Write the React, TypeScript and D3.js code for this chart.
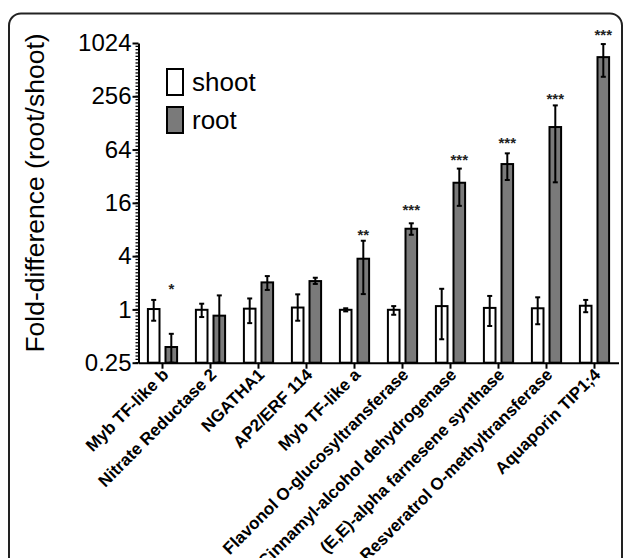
import React, { useEffect, useRef } from 'react';
import * as d3 from 'd3';

const genes = [
  'Myb TF-like b',
  'Nitrate Reductase 2',
  'NGATHA1',
  'AP2/ERF 114',
  'Myb TF-like a',
  'Flavonol O-glucosyltransferase',
  'Cinnamyl-alcohol dehydrogenase',
  '(E,E)-alpha farnesene synthase',
  'Resveratrol O-methyltransferase',
  'Aquaporin TIP1;4',
];
const series = ['shoot', 'root'];

const shootMean = [1.01, 0.99, 1.02, 1.05, 0.99, 0.99, 1.09, 1.04, 1.03, 1.1];
const shootLow = [0.745, 0.82, 0.7, 0.745, 0.95, 0.87, 0.46, 0.65, 0.68, 0.93];
const shootHigh = [1.28, 1.16, 1.33, 1.48, 1.03, 1.09, 1.71, 1.42, 1.37, 1.28];

const rootMean = [0.376, 0.85, 2.02, 2.09, 3.74, 8.16, 27, 43.9, 115, 709];
const rootLow = [0.25, 0.25, 1.66, 1.94, 1.49, 6.97, 14.8, 29, 27.3, 425];
const rootHigh = [0.53, 1.44, 2.38, 2.28, 5.97, 9.4, 39, 58, 202, 996];

// significance marks and the value where each sits
const signif = ['*', '', '', '', '**', '***', '***', '***', '***', '***'];
const signifAt = [1.84, 0, 0, 0, 7.55, 14.2, 52.7, 81.3, 259.6, 1351];

const yTicks = [0.25, 1, 4, 16, 64, 256, 1024];

const Chart: React.FC = () => {
  const ref = useRef<SVGSVGElement | null>(null);

  useEffect(() => {
    const svg = d3.select(ref.current);
    svg.selectAll('*').remove();

    const font = '"Liberation Sans", Arial, Helvetica, sans-serif';

    // panel frame
    svg
      .append('rect')
      .attr('x', 9)
      .attr('y', 13.5)
      .attr('width', 613)
      .attr('height', 620)
      .attr('rx', 12)
      .attr('fill', 'none')
      .attr('stroke', '#222')
      .attr('stroke-width', 2);

    const left = 138.5;
    const right = 618.5;
    const top = 43;
    const bottom = 362.7;

    const x0 = d3.scaleBand<string>().domain(genes).range([left, right]).padding(0);
    const x1 = d3.scaleBand<string>().domain(series).range([-17.6, 17.6]).padding(0);
    const y = d3.scaleLog().base(2).domain([0.25, 1024]).range([bottom, top]);

    const barW = 11.6;

    const rows = genes.map((g, i) => ({
      gene: g,
      vals: [
        { s: 'shoot', m: shootMean[i], lo: shootLow[i], hi: shootHigh[i] },
        { s: 'root', m: rootMean[i], lo: rootLow[i], hi: rootHigh[i] },
      ],
    }));

    const groups = svg
      .selectAll('.grp')
      .data(rows)
      .enter()
      .append('g')
      .attr('class', 'grp')
      .attr('transform', (d) => `translate(${x0(d.gene)! + x0.bandwidth() / 2},0)`);

    const bars = groups
      .selectAll('.bar')
      .data((d) => d.vals)
      .enter()
      .append('g');

    bars
      .append('rect')
      .attr('x', (d) => x1(d.s)! + x1.bandwidth() / 2 - barW / 2)
      .attr('y', (d) => y(d.m))
      .attr('width', barW)
      .attr('height', (d) => bottom - y(d.m))
      .attr('fill', (d) => (d.s === 'root' ? '#7a7a7a' : '#fff'))
      .attr('stroke', '#000')
      .attr('stroke-width', 2);

    // error bars
    bars
      .append('line')
      .attr('x1', (d) => x1(d.s)! + x1.bandwidth() / 2)
      .attr('x2', (d) => x1(d.s)! + x1.bandwidth() / 2)
      .attr('y1', (d) => y(d.lo))
      .attr('y2', (d) => y(d.hi))
      .attr('stroke', '#000')
      .attr('stroke-width', 2);

    ['lo', 'hi'].forEach((k) => {
      bars
        .append('line')
        .attr('x1', (d) => x1(d.s)! + x1.bandwidth() / 2 - 2.5)
        .attr('x2', (d) => x1(d.s)! + x1.bandwidth() / 2 + 2.5)
        .attr('y1', (d: any) => y(d[k]))
        .attr('y2', (d: any) => y(d[k]))
        .attr('stroke', '#000')
        .attr('stroke-width', 2);
    });

    // significance stars
    svg
      .selectAll('.sig')
      .data(genes)
      .enter()
      .append('text')
      .attr('x', (d) => x0(d)! + x0.bandwidth() / 2 + x1('root')! + x1.bandwidth() / 2)
      .attr('y', (d, i) => y(signifAt[i] || 1) + 8)
      .attr('text-anchor', 'middle')
      .attr('font-family', font)
      .attr('font-size', 15)
      .attr('font-weight', 'bold')
      .attr('fill', '#222')
      .text((d, i) => signif[i]);

    // y axis
    const yAxis = svg
      .append('g')
      .attr('transform', `translate(${left},0)`)
      .call(
        d3
          .axisLeft(y)
          .tickValues(yTicks)
          .tickFormat((d) => String(d))
          .tickSize(6)
          .tickSizeOuter(0)
      );
    yAxis.select('.domain').attr('stroke', '#000').attr('stroke-width', 2);
    yAxis.selectAll('line').attr('stroke', '#000').attr('stroke-width', 2);
    yAxis
      .selectAll('text')
      .attr('font-family', font)
      .attr('font-size', 24)
      .attr('fill', '#000')
      .attr('x', -7);

    // minor ticks on y
    const minor: number[] = [];
    for (let e = -2; e < 10; e += 0.125) minor.push(Math.pow(2, e));
    yAxis
      .selectAll('.minor')
      .data(minor)
      .enter()
      .append('line')
      .attr('x1', -3)
      .attr('x2', 0)
      .attr('y1', (d) => y(d))
      .attr('y2', (d) => y(d))
      .attr('stroke', '#000')
      .attr('stroke-width', 1.3);

    // x axis
    const xAxis = svg
      .append('g')
      .attr('transform', `translate(0,${bottom})`)
      .call(d3.axisBottom(x0).tickSize(6).tickSizeOuter(0));
    xAxis.select('.domain').attr('stroke', '#000').attr('stroke-width', 2);
    xAxis.selectAll('line').attr('stroke', '#000').attr('stroke-width', 2);
    xAxis
      .selectAll('text')
      .attr('font-family', font)
      .attr('font-size', 17)
      .attr('font-weight', 'bold')
      .attr('fill', '#000')
      .attr('text-anchor', 'end')
      .attr('dy', 0)
      .attr('y', 0)
      .attr('transform', 'translate(7,13) rotate(-45)');

    // y title
    svg
      .append('text')
      .attr('transform', `translate(44,193) rotate(-90)`)
      .attr('text-anchor', 'middle')
      .attr('font-family', font)
      .attr('font-size', 26.5)
      .attr('fill', '#000')
      .text('Fold-difference (root/shoot)');

    // legend
    const legend = svg
      .selectAll('.leg')
      .data(series)
      .enter()
      .append('g')
      .attr('transform', (d, i) => `translate(167,${69 + i * 38})`);
    legend
      .append('rect')
      .attr('width', 16)
      .attr('height', 26)
      .attr('fill', (d) => (d === 'root' ? '#7a7a7a' : '#fff'))
      .attr('stroke', '#000')
      .attr('stroke-width', 2);
    legend
      .append('text')
      .attr('x', 25)
      .attr('y', 22)
      .attr('font-family', font)
      .attr('font-size', 26)
      .attr('fill', '#000')
      .text((d) => d);
  }, []);

  return (
    <svg
      ref={ref}
      width={625}
      height={558}
      style={{ position: 'absolute', left: 0, top: 0, background: '#fff' }}
    ></svg>
  );
};

export default function App() {
  return <Chart />;
}
